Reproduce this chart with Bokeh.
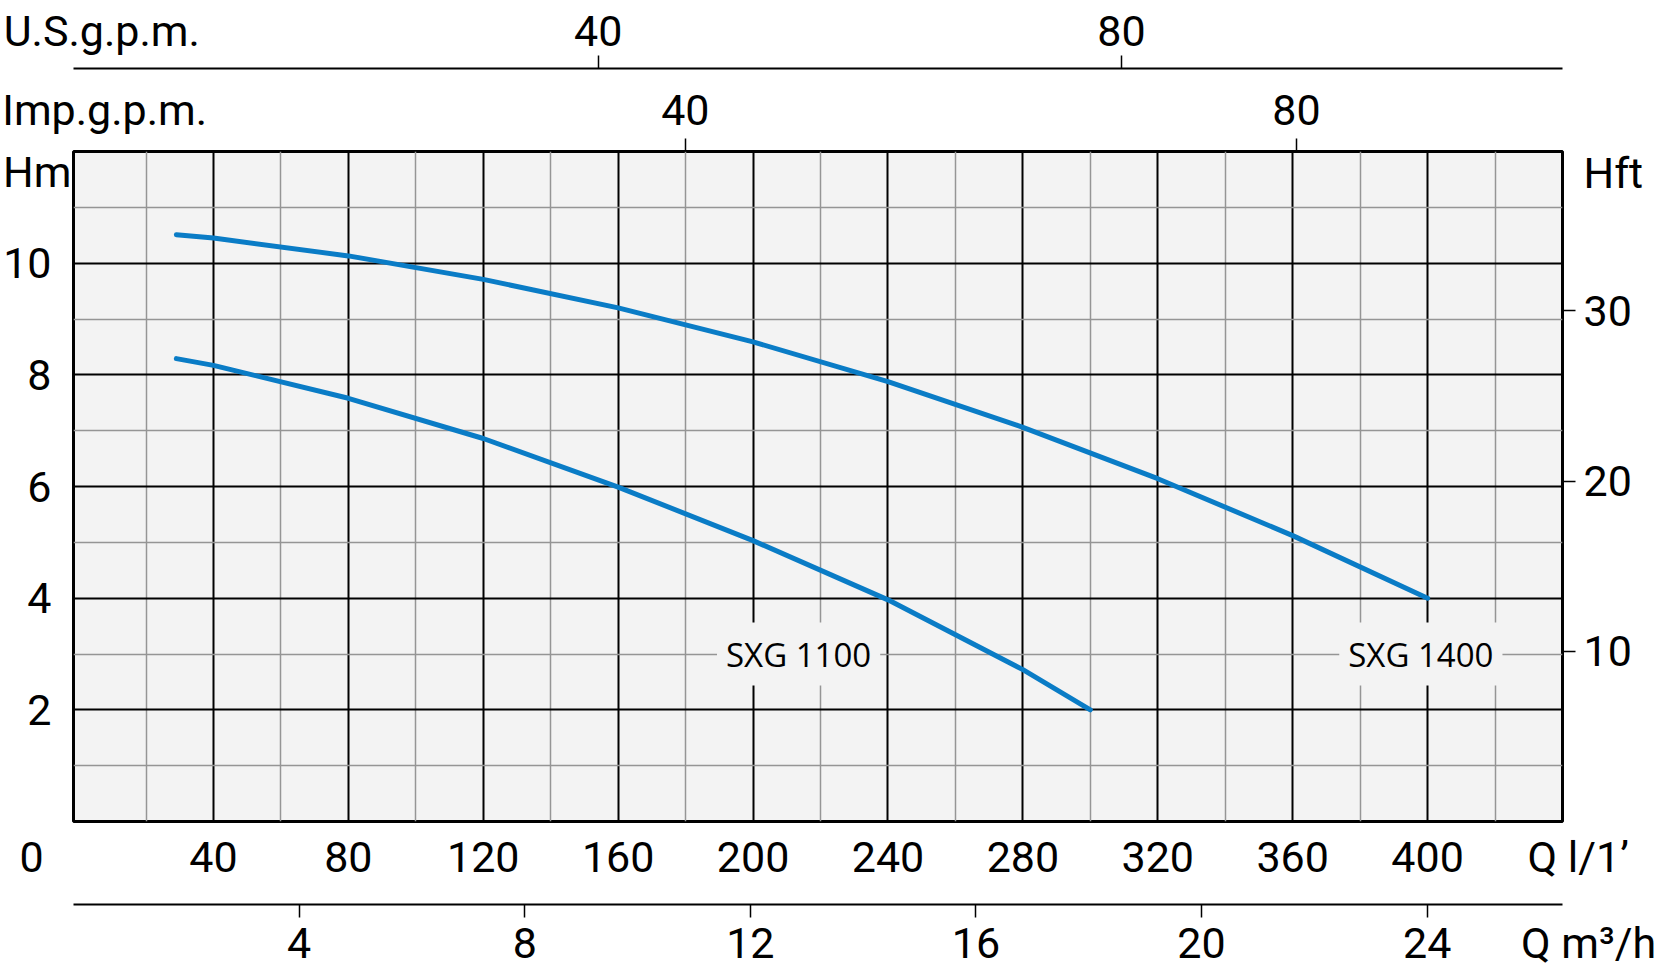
from bokeh.plotting import figure
from bokeh.models import Range1d, LinearAxis, FixedTicker, Label
from bokeh.embed import file_html
from bokeh.resources import INLINE

# ---- data ----
q_sxg1400 = [29, 40, 80, 120, 160, 200, 240, 280, 320, 360, 400]      # l/min
h_sxg1400 = [10.51, 10.45, 10.13, 9.71, 9.20, 8.59, 7.88, 7.06, 6.14, 5.12, 4.0]  # m
q_sxg1100 = [29, 40, 80, 120, 160, 200, 240, 280, 300]
h_sxg1100 = [8.29, 8.17, 7.58, 6.86, 5.99, 5.03, 3.97, 2.72, 2.0]

lmin_ticks = [40, 80, 120, 160, 200, 240, 280, 320, 360, 400]
lmin_minor = [20, 60, 100, 140, 180, 220, 260, 300, 340, 380, 420]
m3h_ticks = [4, 8, 12, 16, 20, 24]
us_ticks = [40, 80]
imp_ticks = [40, 80]
hm_ticks = [2, 4, 6, 8, 10]
hm_minor = [1, 3, 5, 7, 9, 11]
hft_ticks = [10, 20, 30]

curve_names = ["SXG 1100", "SXG 1400"]
name_q = [213.5, 398]
name_h = [3, 3]

# axis titles, written as extra tick labels at these axis positions
NB = "\u00a0"
FS = "\u2007"
title_q_zero, title_q_zero_at = "0" + FS * 3 + NB * 2, 0
title_lmin, title_lmin_at = NB * 3 + "Q l/1\u2019", 439.9
title_m3h, title_m3h_at = NB * 5 + "Q m\u00b3/h", 26.39
title_us, title_us_at = "U.S.g.p.m.", 2.05
title_imp, title_imp_at = "Imp.g.p.m.", 2.0
title_hm, title_hm_at = "Hm", 11.64
title_hft, title_hft_at = "Hft", 38.08

AX_FONT = "Roboto"
AX_SIZE = "43px"
BLUE = "#0a7cc6"
BG = "#f3f3f3"

p = figure(width=1658, height=972, output_backend="svg", toolbar_location=None,
           x_range=Range1d(-1.5, 440), y_range=Range1d(0, 12),
           x_axis_location=None, y_axis_location=None,
           background_fill_color=BG, border_fill_color="white",
           min_border_left=72, min_border_right=96, min_border_top=151, min_border_bottom=151)
p.outline_line_color = "black"
p.outline_line_width = 3

p.extra_x_ranges = {"us": Range1d(-0.107, 113.72), "imp": Range1d(-0.04, 97.41),
                    "m3h": Range1d(0, 26.4)}
p.extra_y_ranges = {"ft": Range1d(0, 39.37)}


def make_axis(side, ticks, rng=None, tick_out=0, line=False, standoff=0,
              labels=True, overrides=None, pad=None):
    kw = {}
    if rng is not None:
        kw["x_range_name" if side in ("above", "below") else "y_range_name"] = rng
    ax = LinearAxis(**kw)
    ax.ticker = FixedTicker(ticks=ticks)
    ax.major_tick_out = tick_out
    ax.major_tick_in = 0
    ax.minor_tick_out = 0
    ax.minor_tick_in = 0
    ax.major_tick_line_color = "black" if tick_out else None
    ax.major_tick_line_width = 1.5
    ax.axis_line_color = "black" if line else None
    ax.axis_line_width = 2
    ax.major_label_text_font = AX_FONT
    ax.major_label_text_color = "black"
    ax.major_label_standoff = standoff
    if labels:
        ax.major_label_text_font_size = AX_SIZE
        if overrides:
            ax.major_label_overrides = overrides
    else:
        ax.major_label_text_font_size = "0px"
        ax.major_label_overrides = {t: "" for t in ticks}
    if pad is not None:
        ax.axis_label = " "
        ax.axis_label_text_font_size = "1px"
        ax.axis_label_standoff = pad
    p.add_layout(ax, side)
    return ax

# below: l/min labels, then m3/h line+ticks, then m3/h labels
make_axis("below", [title_q_zero_at] + lmin_ticks + [title_lmin_at], standoff=10,
          overrides={title_q_zero_at: title_q_zero, title_lmin_at: title_lmin}, pad=16)
make_axis("below", m3h_ticks, rng="m3h", tick_out=13, line=True, labels=False)
make_axis("below", m3h_ticks + [title_m3h_at], rng="m3h", standoff=0,
          overrides={title_m3h_at: title_m3h})

# above: imp ticks, imp labels, us line+ticks, us labels
make_axis("above", imp_ticks, rng="imp", tick_out=13, labels=False)
make_axis("above", [title_imp_at] + imp_ticks, rng="imp", standoff=4,
          overrides={title_imp_at: title_imp}, pad=9)
make_axis("above", us_ticks, rng="us", tick_out=13, line=True, labels=False)
make_axis("above", [title_us_at] + us_ticks, rng="us", standoff=0,
          overrides={title_us_at: title_us})

# left: metres, then the "Hm" title pulled back next to the frame
make_axis("left", hm_ticks, standoff=22)
make_axis("left", [title_hm_at], standoff=-71, overrides={title_hm_at: title_hm})

# right: feet ticks, then feet labels with the "Hft" title
make_axis("right", hft_ticks, rng="ft", tick_out=13, labels=False)
make_axis("right", hft_ticks + [title_hft_at], rng="ft", standoff=8,
          overrides={title_hft_at: title_hft})

# grids
p.xgrid.ticker = FixedTicker(ticks=lmin_ticks, minor_ticks=lmin_minor)
p.ygrid.ticker = FixedTicker(ticks=hm_ticks, minor_ticks=hm_minor)
for g in (p.xgrid, p.ygrid):
    g.grid_line_color = "black"
    g.grid_line_width = 2
    g.minor_grid_line_color = "#959595"
    g.minor_grid_line_width = 1.5

# curves
p.line(q_sxg1400, h_sxg1400, line_color=BLUE, line_width=5, line_cap="round", line_join="round")
p.line(q_sxg1100, h_sxg1100, line_color=BLUE, line_width=5, line_cap="round", line_join="round")

for nm, xq, yh in zip(curve_names, name_q, name_h):
    p.add_layout(Label(x=xq, y=yh, text=nm, text_align="center", text_baseline="middle",
                       text_font="Open Sans", text_font_size="33px", text_color="black",
                       background_fill_color=BG, padding=9))

open("out.html", "w").write(file_html(p, INLINE))
